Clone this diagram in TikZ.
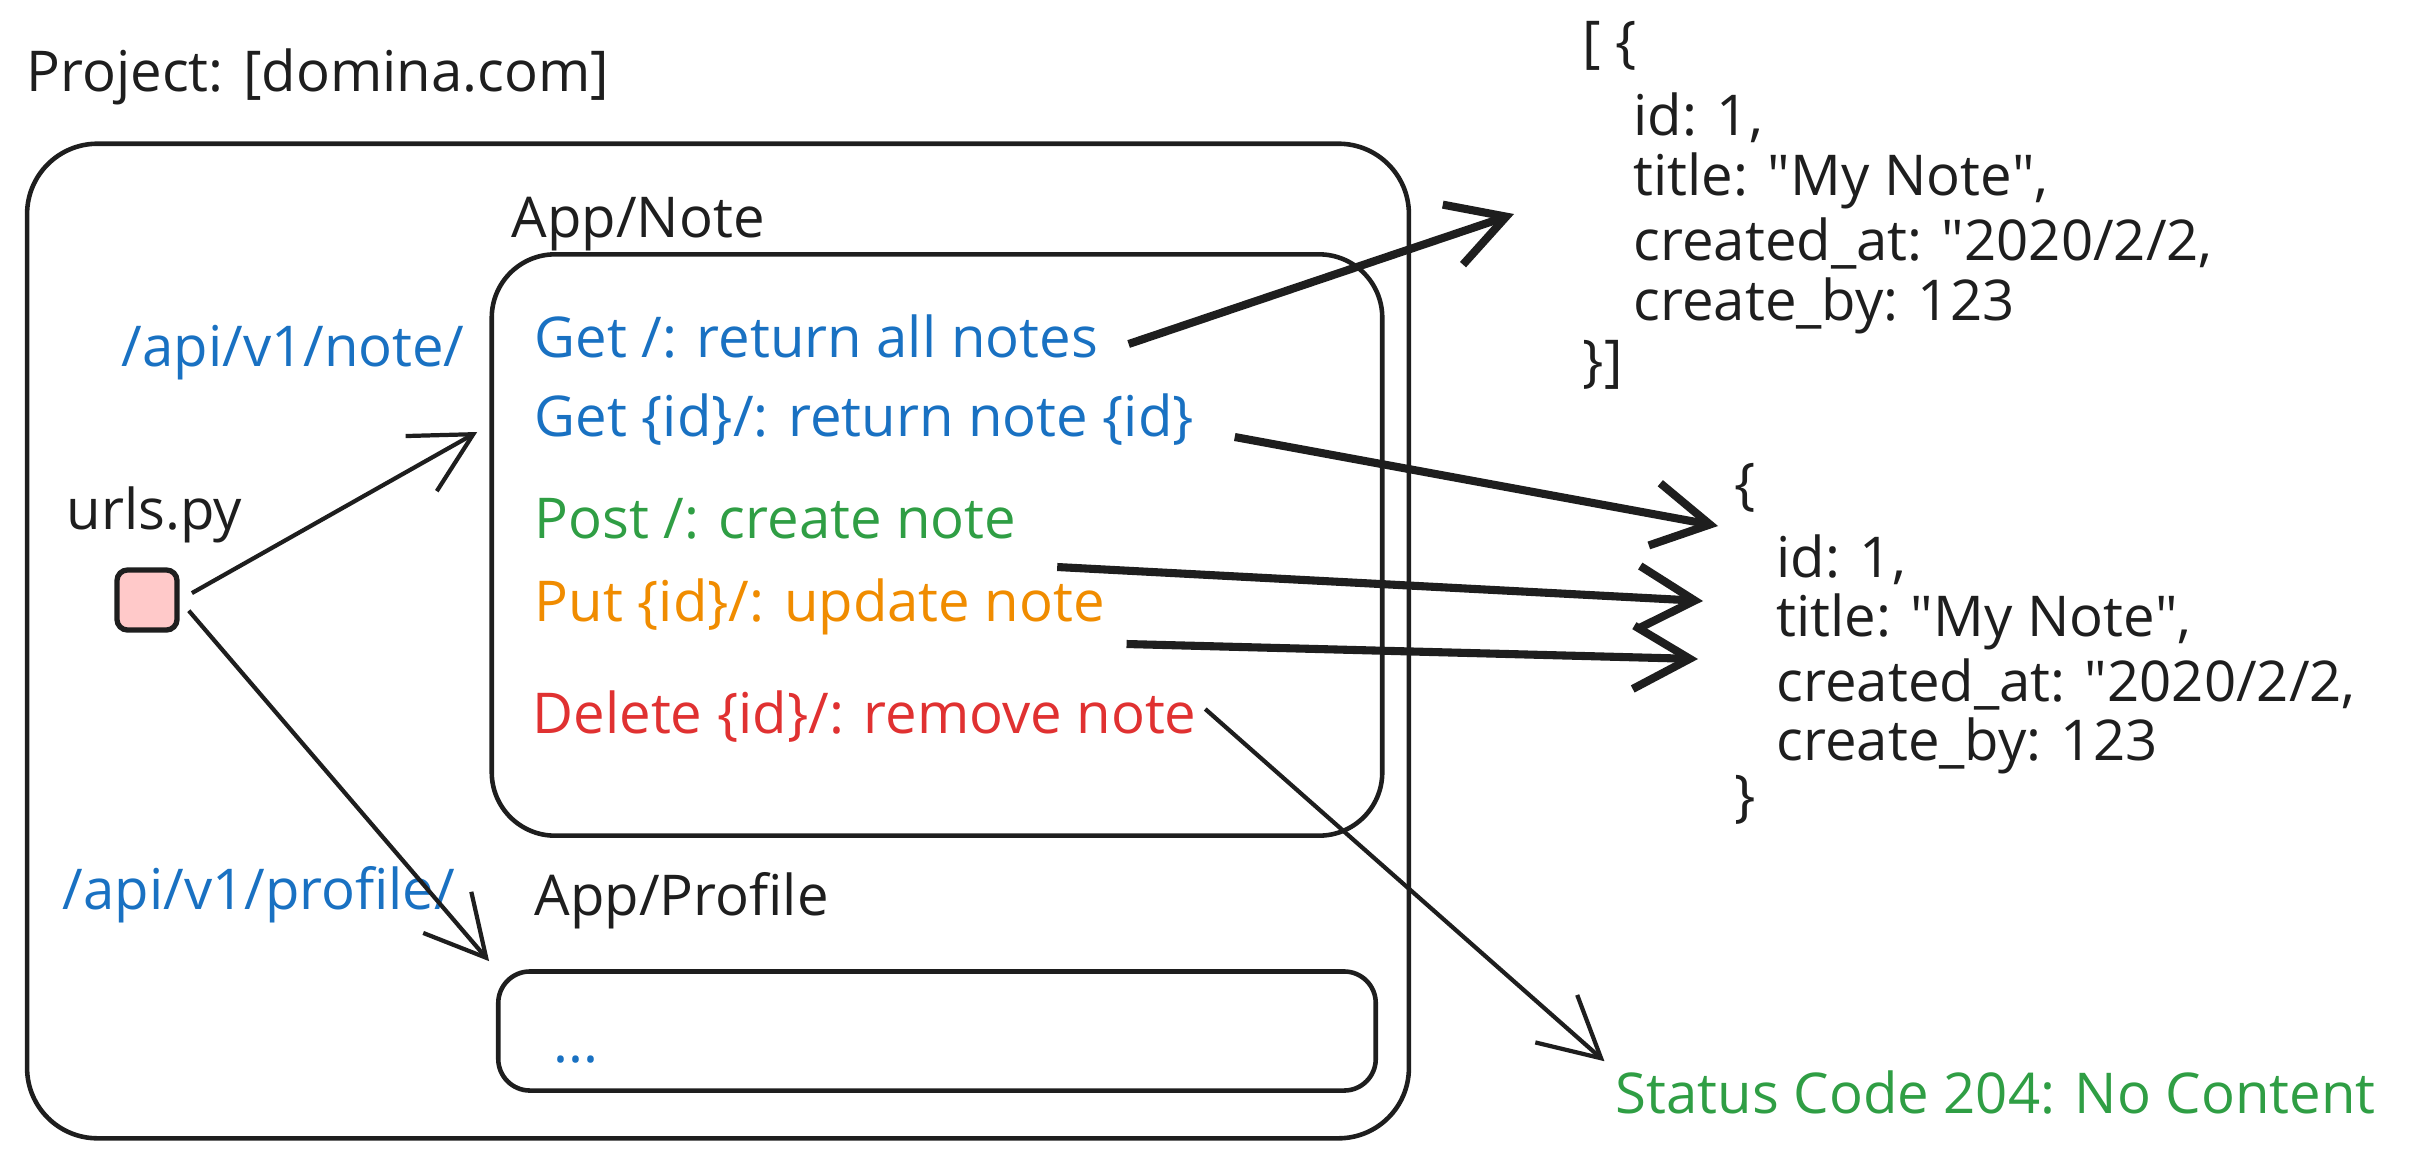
\documentclass[tikz,border=0pt]{standalone}
\usepackage{fontspec}
\setmainfont{Open Sans}
\usetikzlibrary{arrows.meta}

\definecolor{inkblack}{HTML}{1E1E1E}
\definecolor{apiblue}{HTML}{1971C2}
\definecolor{okgreen}{HTML}{2F9E44}
\definecolor{putorange}{HTML}{F08C00}
\definecolor{delred}{HTML}{E03131}
\definecolor{urlpink}{HTML}{FFC9C9}

\begin{document}
\begin{tikzpicture}[x=0.01cm, y=-0.01cm,
    every node/.style={font=\fontsize{16}{19}\selectfont, text=inkblack, inner sep=0pt},
    lbl/.style={anchor=west},
    box/.style={draw=inkblack, line width=1.3pt, rounded corners=18pt},
    thin/.style={draw=inkblack, line width=1.2pt, -{Straight Barb[length=17pt,width=18pt]}},
    thick/.style={draw=inkblack, line width=2.3pt, -{Straight Barb[length=16pt,width=18pt]}}]
    \useasboundingbox (0,0) rectangle (2427,1154);

    \node[lbl] (project) at (26,77) {Project: [domina.com]};
    \node[box, minimum width=13.81cm, minimum height=9.94cm, rounded corners=20pt] (outer) at (718,641) {};

    \node[lbl] (notelbl) at (511,224) {App/Note};
    \node[box, minimum width=8.9cm, minimum height=5.81cm] (note) at (937,545) {};
    \node[lbl, text=apiblue] (getall) at (534,337) {Get /: return all notes};
    \node[lbl, text=apiblue] (getid) at (534,420) {Get \{id\}/: return note \{id\}};
    \node[lbl, text=okgreen] (post) at (534,519) {Post /: create note};
    \node[lbl, text=putorange] (put) at (534,607) {Put \{id\}/: update note};
    \node[lbl, text=delred] (delete) at (532,717) {Delete \{id\}/: remove note};

    \node[lbl, text=apiblue] (noteurl) at (121,353) {/api/v1/note/};
    \node[lbl] (urlslbl) at (66,515) {urls.py};
    \node[draw=inkblack, fill=urlpink, line width=1.5pt, rounded corners=3pt, minimum size=0.6cm] (urls) at (147,600) {};
    \node[lbl, text=apiblue] (profileurl) at (62,895) {/api/v1/profile/};

    \node[lbl] (profilelbl) at (534,901) {App/Profile};
    \node[box, minimum width=8.77cm, minimum height=1.19cm, rounded corners=9pt] (profile) at (937,1031) {};
    \node[lbl, text=apiblue] (dots) at (553,1060) {...};

    % list response
    \node[lbl] (listopen) at (1582,46) {[ \{};
    \node[lbl] (listid) at (1633,118) {id: 1,};
    \node[lbl] (listtitle) at (1633,181) {title: \textquotedbl My Note\textquotedbl,};
    \node[lbl] (listcreated) at (1633,243) {created\_at: \textquotedbl 2020/2/2,};
    \node[lbl] (listby) at (1633,306) {create\_by: 123};
    \node[lbl] (listclose) at (1582,365) {\}]};

    % single response
    \node[lbl] (oneopen) at (1734,488) {\{};
    \node[lbl] (oneid) at (1776,560) {id: 1,};
    \node[lbl] (onetitle) at (1776,622) {title: \textquotedbl My Note\textquotedbl,};
    \node[lbl] (onecreated) at (1776,684) {created\_at: \textquotedbl 2020/2/2,};
    \node[lbl] (oneby) at (1776,746) {create\_by: 123};
    \node[lbl] (oneclose) at (1734,800) {\}};

    \node[lbl, text=okgreen] (status) at (1615,1093) {Status Code 204: No Content};

    \coordinate (tipall) at (1514,214);
    \coordinate (tipid) at (1718,526);
    \coordinate (tippost) at (1703,601);
    \coordinate (tipput) at (1698,659);

    \draw[thin, shorten <=4pt, shorten >=4pt] (urls.east) -- (note.165);
    \draw[thin, shorten <=4pt, shorten >=3pt] (urls.east) -- (profile.north west);

    \draw[thick] ([shift={(30,7)}]getall.east) -- (tipall);
    \draw[thick] ([shift={(40,17)}]getid.east) -- (tipid);
    \draw[thick] ([shift={(40,48)}]post.east) -- (tippost);
    \draw[thick] ([shift={(21,37)}]put.east) -- (tipput);
    \draw[thin, shorten >=4pt] ([shift={(8,-8)}]delete.east) -- (status.north west);
\end{tikzpicture}
\end{document}
